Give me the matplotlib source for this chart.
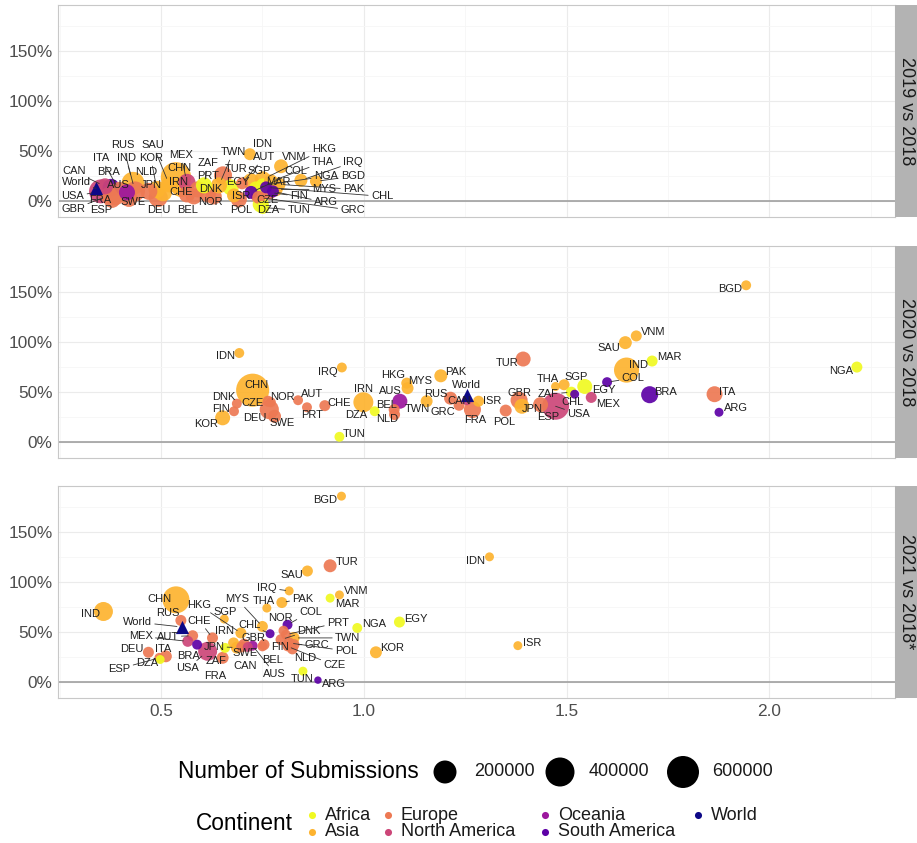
import numpy as np
import matplotlib
matplotlib.use("Agg")
import matplotlib.pyplot as plt

plt.rcParams['font.family'] = ['Liberation Sans', 'DejaVu Sans']

# Länder und Kontinente
codes = ['ARG', 'AUS', 'AUT', 'BEL', 'BGD', 'BRA', 'CAN', 'CHE', 'CHL', 'CHN',
         'COL', 'CZE', 'DEU', 'DNK', 'DZA', 'EGY', 'ESP', 'FIN', 'FRA', 'GBR',
         'GRC', 'HKG', 'IDN', 'IND', 'IRN', 'IRQ', 'ISR', 'ITA', 'JPN', 'KOR',
         'MAR', 'MEX', 'MYS', 'NGA', 'NLD', 'NOR', 'PAK', 'POL', 'PRT', 'RUS',
         'SAU', 'SGP', 'SWE', 'THA', 'TUN', 'TUR', 'TWN', 'USA', 'VNM', 'ZAF',
         'World']
continent = ['South America', 'Oceania', 'Europe', 'Europe', 'Asia', 'South America',
             'North America', 'Europe', 'South America', 'Asia',
             'South America', 'Europe', 'Europe', 'Europe', 'Africa', 'Africa',
             'Europe', 'Europe', 'Europe', 'Europe',
             'Europe', 'Asia', 'Asia', 'Asia', 'Asia', 'Asia', 'Asia', 'Europe',
             'Asia', 'Asia',
             'Africa', 'North America', 'Asia', 'Africa', 'Europe', 'Europe',
             'Asia', 'Europe', 'Europe', 'Europe',
             'Asia', 'Asia', 'Europe', 'Asia', 'Africa', 'Europe', 'Asia',
             'North America', 'Asia', 'Africa',
             'World']

# 2019 vs 2018
x19 = [0.776, 0.416, 0.700, 0.581, 0.882, 0.377, 0.362, 0.564, 0.759, 0.537,
       0.722, 0.741, 0.493, 0.616, 0.746, 0.672, 0.379, 0.766, 0.387, 0.372,
       0.741, 0.751, 0.719, 0.431, 0.549, 0.845, 0.680, 0.397, 0.505, 0.490,
       0.734, 0.564, 0.783, 0.751, 0.470, 0.630, 0.790, 0.692, 0.591, 0.436,
       0.520, 0.722, 0.421, 0.771, 0.751, 0.653, 0.643, 0.352, 0.796, 0.606,
       0.340]
y19 = [0.10, 0.09, 0.18, 0.05, 0.20, 0.14, 0.15, 0.07, 0.14, 0.24,
       0.09, 0.06, 0.04, 0.07, -0.03, 0.14, 0.02, 0.09, 0.05, 0.06,
       0.04, 0.22, 0.47, 0.18, 0.14, 0.21, 0.06, 0.11, 0.09, 0.12,
       0.13, 0.19, 0.12, 0.16, 0.10, 0.05, 0.17, 0.02, 0.12, 0.10,
       0.17, 0.20, 0.03, 0.20, -0.06, 0.26, 0.16, 0.10, 0.35, 0.16,
       0.13]
n19 = [85, 110, 85, 110, 85, 118, 110, 110, 85, 480,
       90, 110, 140, 110, 110, 110, 118, 100, 127, 118,
       90, 110, 85, 200, 140, 90, 95, 118, 127, 118,
       95, 118, 95, 95, 118, 110, 95, 110, 110, 150,
       110, 110, 118, 95, 90, 127, 110, 220, 95, 110,
       np.nan]

# 2020 vs 2018
x20 = [1.876, 1.089, 0.838, 1.075, 1.943, 1.705, 1.254, 0.904, 1.520, 0.726,
       1.600, 0.764, 0.767, 0.687, 1.027, 1.545, 1.436, 0.680, 1.268, 1.383,
       1.235, 1.106, 0.693, 1.648, 0.999, 0.946, 1.283, 1.865, 1.390, 0.652,
       1.711, 1.561, 1.108, 2.216, 1.076, 0.771, 1.190, 1.350, 0.860, 1.214,
       1.645, 1.494, 0.780, 1.473, 0.940, 1.393, 1.155, 1.473, 1.672, 1.512,
       1.254]
y20 = [0.30, 0.41, 0.42, 0.327, 1.564, 0.475, 0.42, 0.366, 0.48, 0.52,
       0.60, 0.41, 0.327, 0.386, 0.31, 0.557, 0.376, 0.31, 0.327, 0.42,
       0.37, 0.59, 0.89, 0.72, 0.40, 0.746, 0.41, 0.48, 0.36, 0.245,
       0.81, 0.448, 0.54, 0.75, 0.277, 0.40, 0.663, 0.317, 0.35, 0.44,
       0.993, 0.574, 0.26, 0.557, 0.056, 0.83, 0.41, 0.36, 1.06, 0.50,
       0.475]
n20 = [74, 102, 77, 81, 77, 118, 77, 81, 74, 700,
       77, 81, 140, 77, 77, 102, 102, 77, 118, 118,
       81, 81, 77, 250, 150, 77, 81, 109, 102, 102,
       81, 81, 85, 81, 81, 77, 90, 85, 77, 90,
       90, 81, 90, 74, 77, 102, 85, 310, 81, 81,
       np.nan]

# 2021 vs 2018*
x21 = [0.887, 0.726, 0.578, 0.750, 0.945, 0.589, 0.714, 0.627, 0.769, 0.537,
       0.812, 0.812, 0.469, 0.796, 0.498, 1.088, 0.496, 0.754, 0.652, 0.705,
       0.828, 0.697, 1.310, 0.358, 0.679, 0.816, 1.380, 0.512, 0.687, 1.030,
       0.917, 0.566, 0.750, 0.984, 0.824, 0.802, 0.798, 0.816, 0.808, 0.549,
       0.861, 0.656, 0.699, 0.761, 0.850, 0.917, 0.827, 0.615, 0.940, 0.658,
       0.553]
y21 = [0.023, 0.366, 0.465, 0.359, 1.854, 0.376, 0.353, 0.443, 0.485, 0.822,
       0.574, 0.359, 0.30, 0.426, 0.228, 0.601, 0.245, 0.376, 0.245, 0.376,
       0.376, 0.492, 1.25, 0.706, 0.393, 0.911, 0.366, 0.26, 0.347, 0.30,
       0.839, 0.409, 0.557, 0.542, 0.334, 0.515, 0.795, 0.393, 0.475, 0.617,
       1.109, 0.631, 0.353, 0.74, 0.112, 1.161, 0.443, 0.31, 0.871, 0.344,
       0.551]
n21 = [70, 77, 81, 77, 74, 77, 77, 81, 74, 310,
       77, 77, 81, 81, 74, 81, 77, 81, 85, 85,
       81, 81, 74, 138, 81, 74, 74, 85, 85, 85,
       74, 81, 81, 77, 81, 77, 81, 81, 77, 81,
       81, 74, 81, 74, 74, 90, 85, 138, 74, 77,
       np.nan]

panels = ['2019 vs 2018', '2020 vs 2018', '2021 vs 2018*']
size_breaks = [200000, 400000, 600000]
cont_order = ['Africa', 'Asia', 'Europe', 'North America', 'Oceania', 'South America', 'World']
cont_colors = {'Africa': '#F0F921', 'Asia': '#FDB32F', 'Europe': '#ED7953',
               'North America': '#CC4678', 'Oceania': '#9C179E',
               'South America': '#5D01A6', 'World': '#0D0887'}

# Label-Versatz in Pixeln (dx, dy nach unten)
off19 = {'World': (-20, -6), 'USA': (-28, 5), 'CAN': (-31, -15), 'GBR': (-36, 14),
         'FRA': (-15, 4), 'ESP': (-11, 11), 'BRA': (-3, -15), 'ITA': (-18, -32),
         'AUS': (-9, -7), 'RUS': (-12, -46), 'IND': (-7, -25), 'SWE': (4, 4),
         'NLD': (-3, -19), 'KOR': (-6, -31), 'JPN': (-12, -7), 'DEU': (1, 13),
         'SAU': (-16, -39), 'CHN': (3, -9), 'MEX': (-6, -27), 'IRN': (-2, -5),
         'CHE': (-6, -2), 'BEL': (-6, 14), 'ZAF': (4, -22), 'PRT': (10, -13),
         'DNK': (3, -5), 'NOR': (-3, 6), 'TUR': (13, -6), 'TWN': (14, -33),
         'EGY': (7, -5), 'ISR': (7, 1), 'POL': (2, 11), 'IDN': (13, -10),
         'AUT': (22, -26), 'SGP': (8, -10), 'CZE': (9, 5), 'DZA': (7, 6),
         'MAR': (22, -6), 'COL': (45, -21), 'VNM': (13, -9), 'FIN': (30, 4),
         'TUN': (36, 3), 'ARG': (53, 11), 'CHL': (116, 9), 'MYS': (48, 0),
         'PAK': (75, 5), 'HKG': (61, -30), 'THA': (52, -19), 'IRQ': (52, -18),
         'NGA': (63, -9), 'BGD': (37, -5), 'GRC': (94, 13)}
off20 = {'IDN': (-14, 3), 'CHN': (4, -5), 'DNK': (-13, -7), 'FIN': (-13, -2),
         'KOR': (-17, 6), 'CZE': (-16, 2), 'DEU': (-14, 8), 'SWE': (8, 7),
         'NOR': (12, -5), 'AUT': (14, -6), 'PRT': (5, 8), 'CHE': (14, -3),
         'IRQ': (-14, 5), 'IRN': (0, -13), 'DZA': (-19, 4), 'TUN': (15, -3),
         'AUS': (-9, -10), 'BEL': (-8, -5), 'NLD': (-7, 4), 'TWN': (-9, 8),
         'HKG': (-14, -8), 'MYS': (13, -7), 'PAK': (15, -4), 'RUS': (-15, -4),
         'World': (0, -10), 'CAN': (-8, 1), 'ISR': (14, 0), 'GRC': (-16, 7),
         'FRA': (3, 10), 'POL': (-2, 11), 'GBR': (0, -7), 'JPN': (10, 3),
         'TUR': (-16, 4), 'ESP': (8, 12), 'USA': (23, 8), 'THA': (-8, -7),
         'SGP': (12, -8), 'ZAF': (-23, 2), 'CHL': (-2, 8), 'EGY': (19, 4),
         'MEX': (17, 7), 'COL': (26, -4), 'IND': (12, -5), 'SAU': (-16, 5),
         'VNM': (17, -4), 'MAR': (17, -4), 'BRA': (16, -3), 'BGD': (-16, 4),
         'ITA': (13, -2), 'ARG': (17, -4), 'NGA': (-16, 4)}
off21 = {'IND': (-13, 3), 'CHN': (-17, -1), 'TUR': (17, -4), 'SAU': (-16, 4),
         'BGD': (-16, 4), 'IDN': (-14, 4), 'IRQ': (-22, -3), 'PAK': (21, -4),
         'THA': (-3, -7), 'VNM': (17, -4), 'MAR': (17, 6), 'NGA': (17, -4),
         'EGY': (16, -3), 'KOR': (16, -4), 'ISR': (14, -3), 'TUN': (-1, 8),
         'ARG': (16, 4), 'RUS': (-13, -7), 'World': (-45, -5), 'SGP': (1, -7),
         'HKG': (-42, -28), 'MYS': (-25, -27), 'CHL': (-21, -9), 'IRN': (-9, -12),
         'JPN': (-23, -1), 'ZAF': (-9, 13), 'FRA': (-7, 18), 'USA': (-20, 17),
         'BRA': (-9, 11), 'MEX': (-47, -5), 'AUT': (-25, 1), 'CHE': (-13, -17),
         'DEU': (-17, -3), 'ITA': (-3, -7), 'DZA': (-13, 3), 'ESP': (-40, 11),
         'SWE': (3, 6), 'GBR': (9, -7), 'CAN': (-3, 19), 'AUS': (22, 28),
         'BEL': (10, 14), 'FIN': (16, 2), 'NOR': (-3, -13), 'COL': (23, -13),
         'DNK': (28, -9), 'TWN': (54, 0), 'GRC': (23, 0), 'NLD': (13, 9),
         'POL': (57, 8), 'CZE': (47, 19), 'PRT': (52, -12)}


def point_size(n):
    # Fläche in pt^2, logarithmische Skala wie in der Vorlage
    s = 274 + 162 * np.log2(np.asarray(n, dtype=float) / 200000)
    return np.clip(s, 20, None)


W, H = 917, 843
fig = plt.figure(figsize=(W / 100, H / 100), dpi=100)

# Legende im Pixelraster
lax = fig.add_axes([0, 0, 1, 1])
lax.set_xlim(0, W)
lax.set_ylim(H, 0)
lax.axis('off')

px = 0.72  # Punkte pro Pixel
data = [(x19, y19, n19, off19), (x20, y20, n20, off20), (x21, y21, n21, off21)]
tops = [5, 246, 486]
ph = 212
left, right = 58, 895

for i, (xs, ys, ns, offs) in enumerate(data):
    bottom = H - (tops[i] + ph)
    ax = fig.add_axes([left / W, bottom / H, (right - left) / W, ph / H])
    ax.set_xlim(0.246, 2.31)
    ax.set_ylim(-0.155, 1.955)
    ax.set_xticks([0.5, 1.0, 1.5, 2.0])
    ax.set_xticks([0.25, 0.75, 1.25, 1.75, 2.25], minor=True)
    ax.set_yticks([0, 0.5, 1.0, 1.5])
    ax.set_yticks([0.25, 0.75, 1.25, 1.75], minor=True)
    ax.set_yticklabels(['0%', '50%', '100%', '150%'])
    if i == 2:
        ax.set_xticklabels(['0.5', '1.0', '1.5', '2.0'])
    else:
        ax.set_xticklabels([])
    ax.grid(which='major', color='#EBEBEB', lw=0.8)
    ax.grid(which='minor', color='#F6F6F6', lw=0.6)
    ax.set_axisbelow(True)
    ax.tick_params(which='both', length=0, labelsize=12.4, labelcolor='#4D4D4D', pad=4)
    for sp in ax.spines.values():
        sp.set_color('#C8C8C8')
        sp.set_linewidth(0.8)
    ax.axhline(0, color='#A0A0A0', lw=1.2, zorder=1)

    xs = np.array(xs)
    ys = np.array(ys)
    ns = np.array(ns) * 1000
    cols = [cont_colors[c] for c in continent]
    countries = [k for k in range(len(codes)) if codes[k] != 'World']
    countries.sort(key=lambda k: -ns[k])
    sizes = point_size(ns[countries])
    ax.scatter(xs[countries], ys[countries], s=sizes, c=[cols[k] for k in countries],
               alpha=0.92, linewidths=0, zorder=3)
    w = codes.index('World')
    ax.scatter([xs[w]], [ys[w]], s=90, marker='^', c=cont_colors['World'],
               linewidths=0, zorder=4)

    # Beschriftungen
    for k, code in enumerate(codes):
        dx, dy = offs[code]
        if code == 'World':
            r = 5
        else:
            r = np.sqrt(point_size(ns[k])) / 2
        kw = {}
        if np.hypot(dx, dy) > 20:
            kw['arrowprops'] = dict(arrowstyle='-', color='#333333', lw=0.6,
                                    shrinkA=0, shrinkB=r * 0.8)
        ax.annotate(code, (xs[k], ys[k]), xytext=(dx * px, -dy * px),
                    textcoords='offset points', ha='center', va='center',
                    fontsize=8, color='#1f1f1f', zorder=5, **kw)

    # Streifen rechts
    sax = fig.add_axes([right / W, bottom / H, (W - right) / W, ph / H])
    sax.set_facecolor('#B3B3B3')
    sax.set_xticks([])
    sax.set_yticks([])
    for sp in sax.spines.values():
        sp.set_visible(False)
    sax.text(0.5, 0.5, panels[i], rotation=270, ha='center', va='center',
             fontsize=13, color='#1a1a1a', transform=sax.transAxes)

# Größenlegende
lax.text(178, 772, 'Number of Submissions', fontsize=16.3, color='black',
         ha='left', va='center')
size_x = [445, 560, 683]
lax.scatter(size_x, [772] * 3, s=point_size(size_breaks), c='black', linewidths=0)
for sx, b in zip(size_x, size_breaks):
    lax.text(sx + 29, 772, str(b), fontsize=13, color='#1a1a1a', ha='left', va='center')

# Kontinentlegende
lax.text(196, 823, 'Continent', fontsize=16.3, color='black', ha='left', va='center')
col_x = [312, 312, 388, 388, 545, 545, 698]
row_y = [815, 832, 815, 832, 815, 832, 815]
for cx, cy, c in zip(col_x, row_y, cont_order):
    lax.scatter([cx], [cy], s=26, c=cont_colors[c], linewidths=0)
    lax.text(cx + 13, cy, c, fontsize=13, color='#1a1a1a', ha='left', va='center')

fig.savefig('out.png', dpi=100)
